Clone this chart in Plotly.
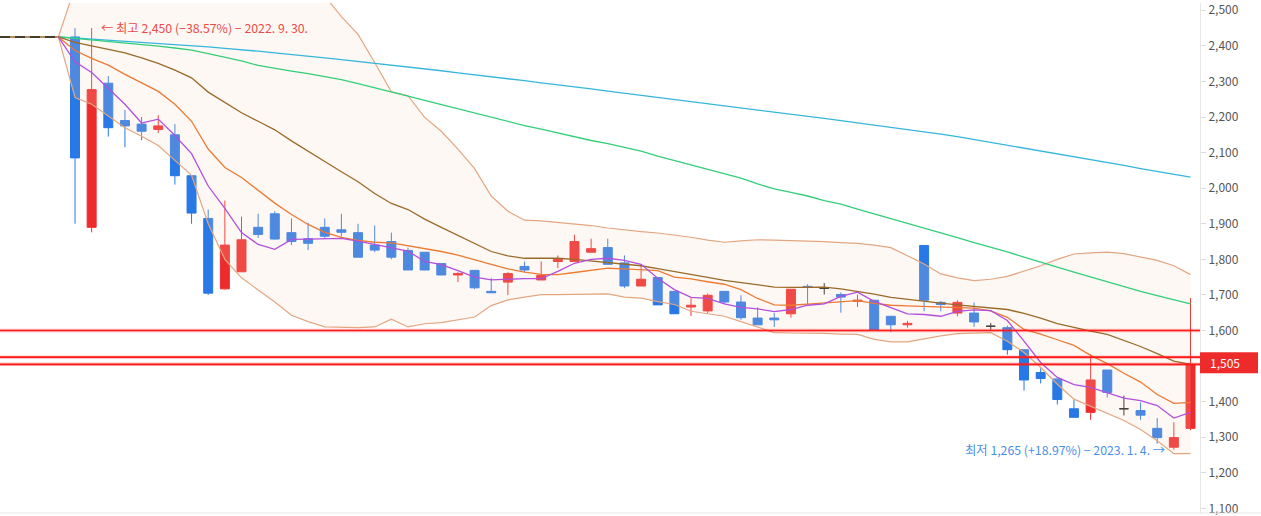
import plotly.graph_objects as go

# ---------------- data ----------------
base_price = 2425          # price before the first candle (dashed line)
last_price = 1505
levels = [1600, 1525]      # horizontal red levels

# candles: index 0 .. 67  (index 1 = 2022-09-30, index 66 = 2023-01-04)
opens = [2425, 1890, 2295, 2190, 2180, 2165, 2150, 2035, 1915, 1717,
         1765, 1890, 1928, 1875, 1858, 1890, 1883, 1875, 1840, 1850,
         1825, 1820, 1788, 1756, 1769, 1710, 1736, 1780, 1742, 1794,
         1794, 1820, 1833, 1790, 1725, 1749, 1710, 1666, 1655, 1710,
         1680, 1635, 1635, 1647, 1724, 1718, 1701, 1682, 1685, 1640,
         1616, 1839, 1679, 1649, 1649, 1612, 1608, 1546, 1482, 1464,
         1380, 1370, 1489, 1380, 1375, 1325, 1272, 1325]
highs = [2450, 2450, 2315, 2220, 2200, 2205, 2180, 2035, 1940, 1965,
         1920, 1928, 1935, 1915, 1903, 1915, 1928, 1900, 1895, 1875,
         1833, 1820, 1788, 1764, 1769, 1748, 1764, 1794, 1794, 1811,
         1869, 1858, 1858, 1811, 1786, 1749, 1710, 1691, 1704, 1710,
         1699, 1665, 1649, 1716, 1730, 1733, 1707, 1701, 1685, 1640,
         1627, 1840, 1683, 1685, 1679, 1621, 1614, 1546, 1494, 1464,
         1406, 1533, 1489, 1417, 1398, 1354, 1342, 1691]
lows = [1900, 1876, 2145, 2115, 2135, 2155, 2010, 1900, 1700, 1715,
        1765, 1860, 1855, 1840, 1826, 1858, 1864, 1806, 1820, 1800,
        1770, 1770, 1756, 1736, 1716, 1705, 1700, 1764, 1742, 1775,
        1794, 1820, 1786, 1719, 1725, 1672, 1647, 1641, 1649, 1675,
        1630, 1616, 1610, 1636, 1675, 1701, 1650, 1666, 1600, 1596,
        1608, 1654, 1654, 1640, 1610, 1602, 1532, 1431, 1451, 1392,
        1356, 1349, 1412, 1361, 1349, 1282, 1265, 1320]
closes = [2085, 2277, 2170, 2175, 2160, 2175, 2035, 1930, 1705, 1840,
          1855, 1870, 1857, 1850, 1845, 1865, 1876, 1806, 1826, 1806,
          1770, 1770, 1756, 1760, 1720, 1706, 1760, 1770, 1755, 1800,
          1850, 1830, 1786, 1725, 1744, 1672, 1647, 1671, 1699, 1680,
          1636, 1616, 1630, 1716, 1721, 1718, 1694, 1685, 1600, 1616,
          1620, 1685, 1673, 1679, 1624, 1612, 1546, 1461, 1465, 1406,
          1356, 1461, 1426, 1380, 1362, 1299, 1299, 1505]

# indicator lines: index -1 .. 67
ma5 = [2425, 2355, 2325, 2280, 2236, 2183, 2194, 2148, 2097, 2006,
       1943, 1875, 1842, 1828, 1856, 1857, 1858, 1859, 1851, 1842,
       1833, 1823, 1794, 1785, 1768, 1750, 1742, 1745, 1746, 1746,
       1766, 1789, 1800, 1803, 1797, 1786, 1747, 1715, 1693, 1690,
       1675, 1665, 1661, 1653, 1659, 1671, 1675, 1696, 1708, 1682,
       1665, 1647, 1645, 1640, 1654, 1658, 1656, 1628, 1570, 1510,
       1468, 1448, 1440, 1426, 1410, 1403, 1389, 1354, 1370]
ma10 = [2425, 2387, 2365, 2346, 2320, 2295, 2272, 2236, 2188, 2110,
        2058, 2030, 1993, 1958, 1926, 1898, 1876, 1862, 1853, 1848,
        1846, 1838, 1832, 1822, 1812, 1800, 1786, 1773, 1764, 1758,
        1757, 1763, 1770, 1775, 1773, 1770, 1768, 1750, 1745, 1737,
        1730, 1715, 1690, 1672, 1671, 1674, 1678, 1682, 1684, 1676,
        1671, 1669, 1668, 1666, 1665, 1663, 1655, 1637, 1603, 1590,
        1574, 1558, 1530, 1507, 1480, 1455, 1420, 1395, 1398]
ma20 = [2425, 2410, 2400, 2390, 2380, 2366, 2351, 2332, 2310, 2270,
        2240, 2212, 2188, 2164, 2133, 2103, 2075, 2046, 2018, 1985,
        1957, 1940, 1913, 1890, 1867, 1845, 1822, 1810, 1803, 1803,
        1803, 1800, 1796, 1792, 1788, 1782, 1774, 1765, 1757, 1749,
        1741, 1735, 1728, 1722, 1721, 1721, 1722, 1717, 1710, 1702,
        1693, 1687, 1681, 1677, 1672, 1668, 1664, 1659, 1648, 1635,
        1619, 1608, 1598, 1589, 1573, 1555, 1535, 1514, 1505]
ma60 = [2425, 2421, 2417, 2412, 2408, 2403, 2399, 2394, 2388, 2378,
        2368, 2358, 2345, 2336, 2329, 2322, 2314, 2305, 2294, 2283,
        2271, 2259, 2247, 2235, 2223, 2210, 2198, 2187, 2176, 2166,
        2155, 2144, 2134, 2125, 2115, 2104, 2090, 2078, 2066, 2054,
        2042, 2028, 2012, 1998, 1988, 1978, 1965, 1955, 1941, 1928,
        1914, 1901, 1888, 1874, 1861, 1847, 1835, 1821, 1806, 1791,
        1778, 1764, 1750, 1737, 1723, 1710, 1698, 1687, 1675]
ma120 = [2425, 2422, 2419, 2415, 2412, 2409, 2406, 2403, 2400, 2397,
         2393, 2390, 2385, 2380, 2376, 2371, 2366, 2361, 2356, 2352,
         2347, 2341, 2336, 2330, 2324, 2319, 2313, 2308, 2302, 2296,
         2291, 2285, 2279, 2273, 2267, 2261, 2255, 2249, 2242, 2236,
         2230, 2225, 2219, 2213, 2207, 2201, 2196, 2190, 2184, 2178,
         2171, 2165, 2158, 2152, 2145, 2137, 2129, 2121, 2113, 2104,
         2096, 2088, 2080, 2072, 2064, 2055, 2047, 2039, 2031]
bb_upper = [2425, 2565, 2564, 2577, 2590, 2586, 2582, 2586, 2584, 2640,
            2680, 2676, 2661, 2648, 2623, 2581, 2540, 2482, 2432, 2353,
            2271, 2260, 2199, 2160, 2110, 2055, 1978, 1935, 1910, 1908,
            1904, 1901, 1895, 1888, 1882, 1878, 1874, 1869, 1862, 1854,
            1848, 1852, 1855, 1854, 1853, 1852, 1850, 1847, 1845, 1840,
            1833, 1810, 1787, 1759, 1748, 1740, 1744, 1752, 1767, 1782,
            1800, 1815, 1818, 1820, 1816, 1806, 1797, 1782, 1757]
bb_lower = [2425, 2255, 2236, 2203, 2170, 2146, 2120, 2078, 2036, 1900,
            1800, 1748, 1715, 1680, 1643, 1625, 1610, 1609, 1608, 1610,
            1632, 1610, 1619, 1622, 1629, 1638, 1670, 1686, 1694, 1701,
            1701, 1701, 1702, 1703, 1694, 1691, 1681, 1673, 1654, 1647,
            1640, 1625, 1610, 1594, 1593, 1593, 1592, 1590, 1589, 1575,
            1568, 1568, 1577, 1585, 1591, 1593, 1594, 1570, 1538, 1496,
            1449, 1407, 1387, 1366, 1347, 1322, 1290, 1254, 1254]

high_idx, high_val = 1, 2450
low_idx, low_val = 66, 1265
high_label = "← 최고 2,450 (−38.57%) − 2022. 9. 30."
low_label = "최저 1,265 (+18.97%) − 2023. 1. 4. →"
y_ticks = list(range(1100, 2501, 100))

# ---------------- styling ----------------
RED = "#ee2b2b"
BLUE = "#2878e6"
FLAT = "#222222"
FONT = "Noto Sans CJK KR"

candle_idx = list(range(len(closes)))
line_idx = list(range(-1, len(closes)))

fig = go.Figure()

# Bollinger band fill
fig.add_trace(go.Scatter(x=line_idx, y=bb_lower, mode="lines",
                         line=dict(color="#e3a680", width=1.2),
                         hoverinfo="skip", showlegend=False))
fig.add_trace(go.Scatter(x=line_idx, y=bb_upper, mode="lines",
                         line=dict(color="#e3a680", width=1.2),
                         fill="tonexty", fillcolor="rgba(248,215,195,0.18)",
                         hoverinfo="skip", showlegend=False))

for vals, col in [(ma120, "#35b6dc"), (ma60, "#33cf78"), (ma20, "#9a6a28"),
                  (ma10, "#ec7a32"), (ma5, "#b24fdc")]:
    fig.add_trace(go.Scatter(x=line_idx, y=vals, mode="lines",
                             line=dict(color=col, width=1.3),
                             hoverinfo="skip", showlegend=False))

# candles split by direction
groups = {
    "up": [i for i in candle_idx if closes[i] > opens[i]],
    "down": [i for i in candle_idx if closes[i] < opens[i]],
    "flat": [i for i in candle_idx if closes[i] == opens[i]],
}
colors = {"up": RED, "down": BLUE, "flat": FLAT}
for key, ids in groups.items():
    c = colors[key]
    fig.add_trace(go.Candlestick(
        x=ids,
        open=[opens[i] for i in ids], high=[highs[i] for i in ids],
        low=[lows[i] for i in ids], close=[closes[i] for i in ids],
        increasing=dict(line=dict(color=c, width=1), fillcolor=c),
        decreasing=dict(line=dict(color=c, width=1), fillcolor=c),
        whiskerwidth=0, showlegend=False, name=key))

x_lo, x_hi = -4.505, 67.57
shapes = []
# prior price dashed line
shapes.append(dict(type="line", xref="x", yref="y", x0=x_lo, x1=-1,
                   y0=base_price, y1=base_price,
                   line=dict(color="#9a6a28", width=1.5)))
shapes.append(dict(type="line", xref="x", yref="y", x0=x_lo, x1=-1,
                   y0=base_price, y1=base_price,
                   line=dict(color="#222222", width=1.5, dash="10px,5px")))
for lv in levels + [last_price]:
    shapes.append(dict(type="line", xref="paper", yref="y", x0=0, x1=1,
                       y0=lv, y1=lv, layer="above",
                       line=dict(color="rgba(255,40,40,0.28)", width=3.5)))
    shapes.append(dict(type="line", xref="paper", yref="y", x0=0, x1=1,
                       y0=lv, y1=lv, layer="above",
                       line=dict(color="#ff1a1a", width=1.7)))
# current price label box
shapes.append(dict(type="rect", xref="paper", yref="y", x0=1, x1=1258 / 1200,
                   ysizemode="pixel", yanchor=last_price, y0=-9, y1=12,
                   fillcolor=RED, line=dict(width=0), layer="above"))
# bottom border
shapes.append(dict(type="line", xref="paper", yref="paper", x0=0, x1=1261 / 1200,
                   y0=0, y1=0, line=dict(color="#e6e6e6", width=1)))

annotations = [
    dict(x=high_idx, y=high_val, xref="x", yref="y", text=high_label,
         showarrow=False, xanchor="left", yanchor="middle", xshift=7,
         font=dict(family=FONT, size=12.3, color="#ec4a46")),
    dict(x=low_idx, y=low_val, xref="x", yref="y", text=low_label,
         showarrow=False, xanchor="right", yanchor="middle", xshift=-7,
         font=dict(family=FONT, size=12.3, color="#4a8fe6")),
    dict(x=1, y=last_price, xref="paper", yref="y",
         text=f"{last_price:,}", showarrow=False, xanchor="left",
         yanchor="middle", xshift=8, yshift=1.5,
         font=dict(family=FONT, size=12, color="white")),
]

fig.update_layout(
    width=1261, height=516,
    margin=dict(l=0, r=61, t=0, b=3),
    paper_bgcolor="white", plot_bgcolor="white",
    showlegend=False,
    boxgap=0.23, boxgroupgap=0.3,
    shapes=shapes, annotations=annotations,
    font=dict(family=FONT),
    xaxis=dict(range=[x_lo, x_hi], showticklabels=False, showgrid=False,
               zeroline=False, showline=False, ticks="",
               rangeslider=dict(visible=False), fixedrange=True),
    yaxis=dict(range=[1087.1, 2520.4], side="right", tickvals=y_ticks,
               ticktext=[f"{v:,}" for v in y_ticks], showgrid=False,
               zeroline=False, showline=True, linecolor="#e6e6e6",
               ticks="outside", ticklen=5, tickcolor="#dddddd",
               ticklabeloverflow="allow",
               tickfont=dict(family=FONT, size=12, color="#555555"),
               fixedrange=True),
)

fig.write_html(
    "out.html",
    config={"displayModeBar": False},
    post_script="document.body.style.margin='0';document.body.style.overflow='hidden';",
)
